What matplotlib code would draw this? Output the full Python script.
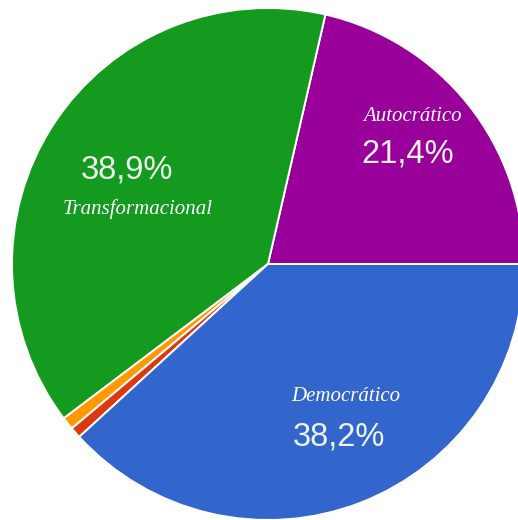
import matplotlib.pyplot as plt

# leadership style shares (percent)
styles = ["Autocrático", "Transformacional", "Otro A", "Otro B", "Democrático"]
shares = [21.4, 38.9, 0.8, 0.7, 38.2]
colors = ["#990099", "#149a1f", "#ff9900", "#dc3912", "#3366cc"]

pct_labels = {"Autocrático": "21,4%", "Transformacional": "38,9%", "Democrático": "38,2%"}

fig = plt.figure(figsize=(5.18, 5.20), dpi=100)
ax = fig.add_axes([0, 0, 1, 1])

ax.pie(
    shares,
    colors=colors,
    startangle=0,
    counterclock=True,
    radius=1.0,
    wedgeprops=dict(edgecolor="white", linewidth=1.4),
)

# the pie is larger than the canvas: centre sits off-middle, edges get clipped
px = 256.0
ax.set_xlim(-268 / px, (518 - 268) / px)
ax.set_ylim(-(520 - 264) / px, 264 / px)
ax.set_aspect("auto")
ax.axis("off")

num_kw = dict(family="Liberation Sans", fontsize=23.5, color="#ecf3ea",
              ha="center", va="center")
name_kw = dict(family="Liberation Serif", style="italic", fontsize=15,
               color="white", ha="center", va="center")

ax.text(-0.551, 0.367, pct_labels["Transformacional"], **num_kw)
ax.text(-0.508, 0.215, "Transformacional", **name_kw)

ax.text(0.563, 0.578, "Autocrático", **name_kw)
ax.text(0.547, 0.430, pct_labels["Autocrático"], **num_kw)

ax.text(0.305, -0.516, "Democrático", **name_kw)
ax.text(0.277, -0.674, pct_labels["Democrático"], **num_kw)

fig.savefig("out.png", dpi=100)
